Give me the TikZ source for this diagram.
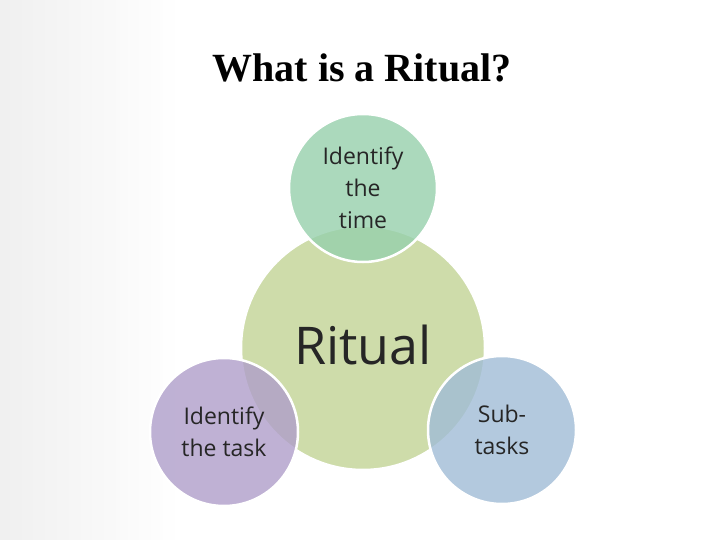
\documentclass[tikz,border=0pt]{standalone}
\usepackage{fontspec}
\setmainfont{Open Sans}
\newfontfamily\titlefont{Liberation Serif}
\begin{document}
\begin{tikzpicture}[x=1pt,y=-1pt,
  circ/.style={circle,draw=white,line width=2.5pt,fill opacity=0.8},
  lbl/.style={align=center,font=\fontsize{23}{32}\selectfont,text=black!85}]
\useasboundingbox (0,0) rectangle (720,540);
\fill[white] (0,0) rectangle (720,540);
\shade[left color=black!6,right color=white] (0,0) rectangle (180,540);
\node[font=\titlefont\bfseries\fontsize{40}{46}\selectfont] (title) at (362,68) {What is a Ritual?};
\node[circ,fill opacity=1,minimum size=244pt,fill={rgb,255:red,206;green,220;blue,170}] (big) at (363,348) {};
\node[circ,minimum size=148pt,fill={rgb,255:red,150;green,208;blue,172}] (top) at (363,188) {};
\node[circ,minimum size=148pt,fill={rgb,255:red,175;green,158;blue,202}] (left) at (224,432) {};
\node[circ,minimum size=148pt,fill={rgb,255:red,160;green,188;blue,214}] (right) at (502,430) {};
\node[font=\fontsize{52}{60}\selectfont,text=black!85] (rl) at (363,345) {Ritual};
\node[lbl] (tl) at (top) {Identify\\the\\time};
\node[lbl] (ll) at (left) {Identify\\the task};
\node[lbl] (rl2) at (right) {Sub-\\tasks};
\end{tikzpicture}
\end{document}
